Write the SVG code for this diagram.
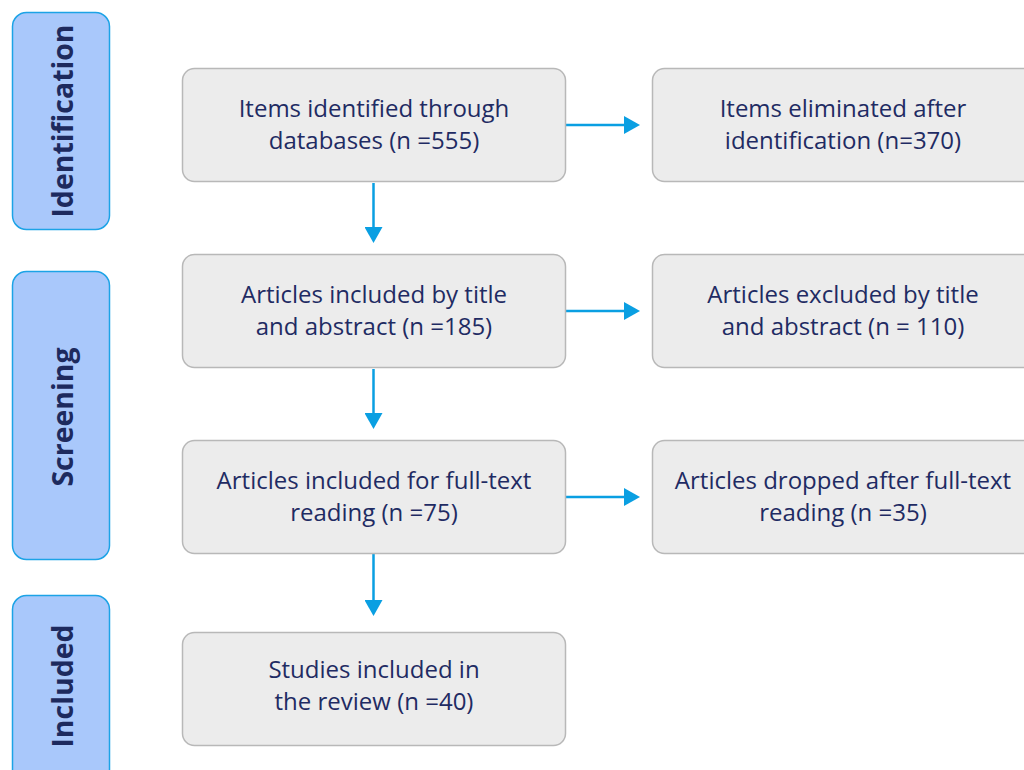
<svg xmlns="http://www.w3.org/2000/svg" width="1024" height="770" viewBox="0 0 1024 770">
  <style>
    .phase { fill: #a9c8fb; stroke: #1ca3e6; stroke-width: 1.5; }
    .phase-label { font-family: "Open Sans", "Noto Sans", sans-serif; font-weight: 700; font-size: 28.5px; fill: #1d2a5e; text-anchor: middle; }
    .box { fill: #ececec; stroke: #b8b8b8; stroke-width: 1.5; }
    .box-label { font-family: "Open Sans", "Noto Sans", sans-serif; font-size: 24px; fill: #1f2b63; text-anchor: middle; }
    .conn { stroke: #0a9fe2; stroke-width: 2.5; fill: none; marker-end: url(#arrow); }
  </style>
  <defs>
    <marker id="arrow" viewBox="0 0 16 18" refX="0" refY="9" markerWidth="16" markerHeight="18" markerUnits="userSpaceOnUse" orient="auto">
      <path d="M0,0 L16,9 L0,18 z" fill="#0a9fe2"/>
    </marker>
  </defs>
  <rect width="1024" height="770" fill="#ffffff"/>

  <!-- phase bars -->
  <g id="phase-identification">
    <rect class="phase" x="12.5" y="12.5" width="97" height="217" rx="14"/>
    <text class="phase-label" transform="translate(73,121) rotate(-90)">Identification</text>
  </g>
  <g id="phase-screening">
    <rect class="phase" x="12.5" y="271.5" width="97" height="288" rx="14"/>
    <text class="phase-label" transform="translate(73,417) rotate(-90)">Screening</text>
  </g>
  <g id="phase-included">
    <rect class="phase" x="12.5" y="595.5" width="97" height="200" rx="14"/>
    <text class="phase-label" transform="translate(73,686) rotate(-90)">Included</text>
  </g>

  <!-- connectors -->
  <g id="connectors">
    <line class="conn" x1="566" y1="125" x2="624" y2="125"/>
    <line class="conn" x1="566" y1="311" x2="624" y2="311"/>
    <line class="conn" x1="566" y1="497" x2="624" y2="497"/>
    <line class="conn" x1="373.5" y1="183" x2="373.5" y2="227"/>
    <line class="conn" x1="373.5" y1="369" x2="373.5" y2="413"/>
    <line class="conn" x1="373.5" y1="554" x2="373.5" y2="600"/>
  </g>

  <!-- main column -->
  <g id="node-identified">
    <rect class="box" x="182.5" y="68.5" width="383" height="113" rx="12"/>
    <text class="box-label" x="374" y="117">Items identified through</text>
    <text class="box-label" x="374" y="149">databases (n =555)</text>
  </g>
  <g id="node-title-abstract">
    <rect class="box" x="182.5" y="254.5" width="383" height="113" rx="12"/>
    <text class="box-label" x="374" y="303">Articles included by title</text>
    <text class="box-label" x="374" y="335">and abstract (n =185)</text>
  </g>
  <g id="node-full-text">
    <rect class="box" x="182.5" y="440.5" width="383" height="113" rx="12"/>
    <text class="box-label" x="374" y="489">Articles included for full-text</text>
    <text class="box-label" x="374" y="521">reading (n =75)</text>
  </g>
  <g id="node-included">
    <rect class="box" x="182.5" y="632.5" width="383" height="113" rx="12"/>
    <text class="box-label" x="374" y="678">Studies included in</text>
    <text class="box-label" x="374" y="710">the review (n =40)</text>
  </g>

  <!-- exclusion column -->
  <g id="node-eliminated">
    <rect class="box" x="652.5" y="68.5" width="400" height="113" rx="12"/>
    <text class="box-label" x="843" y="117">Items eliminated after</text>
    <text class="box-label" x="843" y="149">identification (n=370)</text>
  </g>
  <g id="node-excluded">
    <rect class="box" x="652.5" y="254.5" width="400" height="113" rx="12"/>
    <text class="box-label" x="843" y="303">Articles excluded by title</text>
    <text class="box-label" x="843" y="335">and abstract (n = 110)</text>
  </g>
  <g id="node-dropped">
    <rect class="box" x="652.5" y="440.5" width="400" height="113" rx="12"/>
    <text class="box-label" x="843" y="489">Articles dropped after full-text</text>
    <text class="box-label" x="843" y="521">reading (n =35)</text>
  </g>
</svg>
